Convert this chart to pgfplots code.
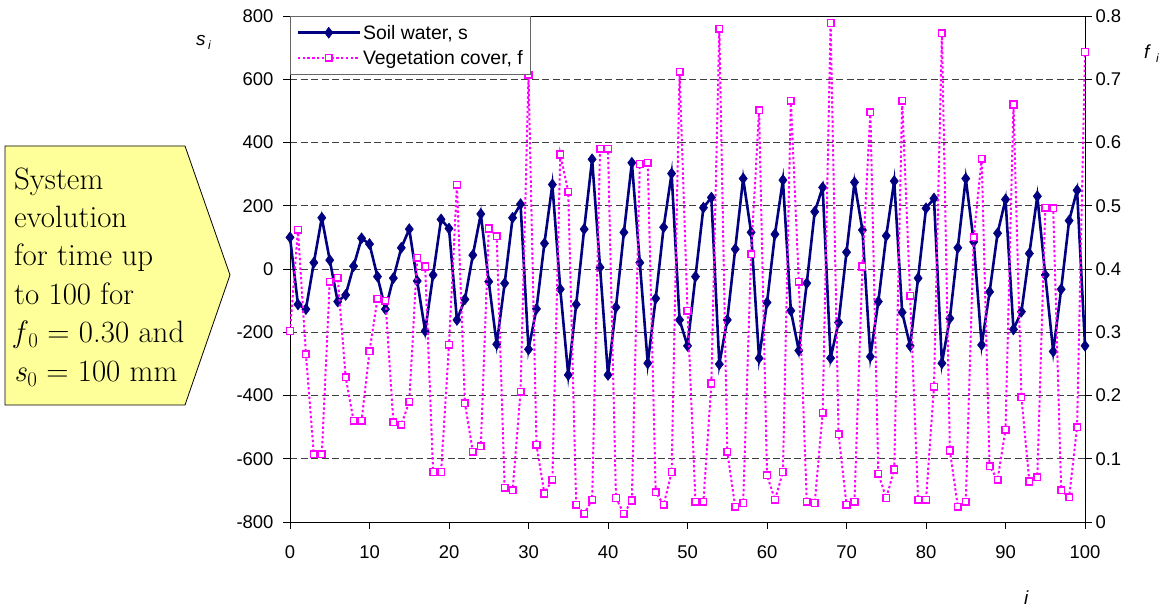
\documentclass[border=0pt]{standalone}
\usepackage{fontspec}
\setmainfont{Liberation Sans}
\newfontfamily\boxfont{Latin Modern Roman}
\usepackage{pgfplots}
\usepackage{pgfplotstable}
\pgfplotsset{compat=1.18}
\definecolor{navyS}{RGB}{0,0,128}
\definecolor{magF}{RGB}{255,0,255}
\definecolor{boxyellow}{RGB}{255,255,153}
\pgfplotstableread{
i s f
0 100 0.302
1 -112 0.462
2 -127 0.265
3 20 0.107
4 162 0.107
5 28 0.380
6 -103 0.386
7 -82 0.229
8 9 0.160
9 97 0.160
10 79 0.270
11 -24 0.353
12 -127 0.350
13 -29 0.158
14 67 0.154
15 126 0.190
16 -38 0.418
17 -196 0.404
18 -19 0.079
19 157 0.079
20 128 0.280
21 -161 0.533
22 -96 0.188
23 44 0.111
24 174 0.120
25 -40 0.464
26 -238 0.452
27 -45 0.054
28 162 0.050
29 205 0.206
30 -254 0.707
31 -126 0.122
32 81 0.045
33 267 0.067
34 -64 0.581
35 -335 0.522
36 -112 0.027
37 126 0.013
38 347 0.035
39 5 0.590
40 -335 0.590
41 -121 0.038
42 116 0.013
43 336 0.034
44 20 0.566
45 -298 0.568
46 -93 0.047
47 132 0.027
48 302 0.079
49 -161 0.712
50 -243 0.334
51 -24 0.032
52 194 0.032
53 226 0.219
54 -301 0.780
55 -161 0.111
56 63 0.024
57 286 0.030
58 116 0.423
59 -282 0.651
60 -106 0.074
61 110 0.035
62 281 0.079
63 -132 0.666
64 -258 0.380
65 -45 0.032
66 181 0.030
67 258 0.173
68 -282 0.789
69 -169 0.139
70 53 0.027
71 274 0.032
72 123 0.404
73 -277 0.648
74 -103 0.076
75 105 0.038
76 278 0.083
77 -137 0.666
78 -243 0.358
79 -29 0.035
80 192 0.035
81 223 0.214
82 -298 0.773
83 -156 0.113
84 67 0.024
85 286 0.032
86 86 0.450
87 -240 0.574
88 -72 0.088
89 113 0.067
90 220 0.146
91 -191 0.660
92 -135 0.197
93 49 0.064
94 230 0.071
95 -19 0.497
96 -261 0.496
97 -64 0.050
98 153 0.039
99 249 0.150
100 -243 0.743
}\datatable
\begin{document}
\begin{tikzpicture}[x=1bp,y=1bp]
\useasboundingbox (0,0) rectangle (1168,609);
% callout box
\draw[fill=boxyellow, draw=black, line width=0.8bp]
  (5,463) -- (185,463) -- (230,334) -- (185,204) -- (5,204) -- cycle;
\begin{scope}[every node/.style={anchor=base west, inner sep=0pt, font=\boxfont\fontsize{31}{36}\selectfont}]
\node at (14,419) {System};
\node at (14,381) {evolution};
\node at (14,343) {for time up};
\node at (14,304.5) {to 100 for};
\node at (14,266) {\textit{f}\kern0.5bp\raisebox{-5bp}{\fontsize{21}{22}\selectfont 0} = 0.30 and};
\node at (14,227.5) {\textit{s}\kern0.5bp\raisebox{-5bp}{\fontsize{21}{22}\selectfont 0} = 100 mm};
\end{scope}
% primary axis
\begin{axis}[
  at={(290bp,87bp)}, anchor=south west,
  width=795bp, height=506bp, scale only axis,
  xmin=0, xmax=100, ymin=-800, ymax=800,
  xtick={0,10,...,100},
  xticklabels={0,10,20,30,40,50,60,70,80,90,100},
  ytick={-800,-600,...,800},
  yticklabels={-800,-600,-400,-200,0,200,400,600,800},
  xtick pos=bottom, ytick pos=left,
  tick align=outside, major tick length=7bp,
  tick style={black, line width=0.9bp},
  axis line style={black, line width=0.9bp},
  ymajorgrids,
  grid style={black!75, line width=0.9bp, dash pattern=on 7bp off 3.5bp},
  tick label style={font=\fontsize{18.5}{20}\selectfont},
  xticklabel style={yshift=-13bp},
  yticklabel style={xshift=-6bp},
  clip=false,
]
\addplot[color=navyS, line width=2.6bp, mark=diamond*, mark size=5.5bp,
  mark options={solid, line width=0.5bp, fill=navyS}]
  table[x=i, y=s] {\datatable};
\end{axis}
% secondary axis
\begin{axis}[
  at={(290bp,87bp)}, anchor=south west,
  width=795bp, height=506bp, scale only axis,
  xmin=0, xmax=100, ymin=0, ymax=0.8,
  hide x axis,
  axis y line*=right,
  ytick={0,0.1,...,0.8},
  yticklabels={0,0.1,0.2,0.3,0.4,0.5,0.6,0.7,0.8},
  tick align=outside, major tick length=7bp,
  tick style={black, line width=0.9bp},
  axis line style={black, line width=0.9bp},
  tick label style={font=\fontsize{18.5}{20}\selectfont},
  legend style={at={(rel axis cs:0,1)}, anchor=north west,
    draw=black!60, line width=0.9bp, fill=white,
    font=\fontsize{19.5}{22}\selectfont,
    inner xsep=6bp, inner ysep=6.5bp, row sep=5.5bp,
    nodes={inner xsep=2bp, inner ysep=2bp}},
  legend cell align=left,
  legend image code/.code={\draw[mark repeat=2,mark phase=2] plot coordinates {(0bp,0bp)(31bp,0bp)(62bp,0bp)};},
]
\addlegendimage{color=navyS, line width=2.6bp, mark=diamond*, mark size=5.5bp,
  mark options={solid, line width=0.5bp, fill=navyS}}
\addlegendentry{Soil water, s}
\addplot[color=magF, line width=2bp, dash pattern=on 2.4bp off 2.4bp,
  mark=square*, mark size=3.3bp, mark options={solid, line width=1.5bp, draw=magF, fill=white}]
  table[x=i, y=f] {\datatable};
\addlegendentry{Vegetation cover, f}
\end{axis}
% axis titles
\node[anchor=base west, inner sep=0pt, font=\fontsize{19}{20}\selectfont] at (196,563) {\textit{s}};
\node[anchor=base west, inner sep=0pt, font=\fontsize{12}{13}\selectfont] at (208,559) {\textit{i}};
\node[anchor=base west, inner sep=0pt, font=\fontsize{19}{20}\selectfont] at (1144,550) {\textit{f}};
\node[anchor=base west, inner sep=0pt, font=\fontsize{12}{13}\selectfont] at (1156,546) {\textit{i}};
\node[anchor=base west, inner sep=0pt, font=\fontsize{19}{20}\selectfont] at (1024,4) {\textit{i}};
\end{tikzpicture}
\end{document}
